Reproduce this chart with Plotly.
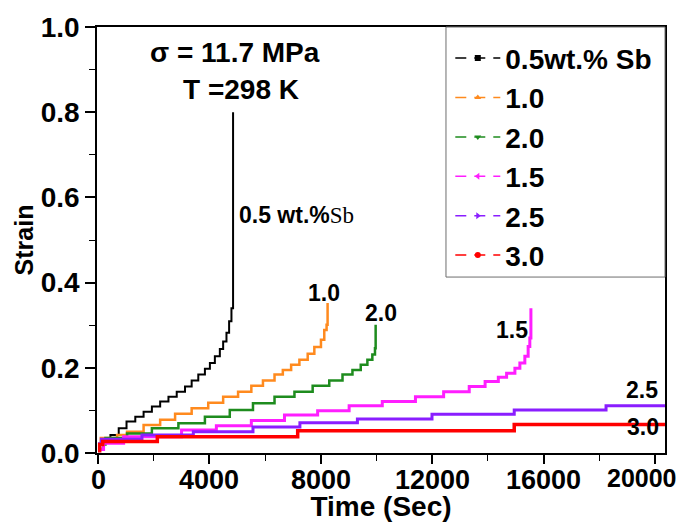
import plotly.graph_objects as go

# ---- data (Time in s, Strain) ----
names = ["0.5wt.% Sb", "1.0", "2.0", "1.5", "2.5", "3.0"]
colors = ["#000000", "#FF8A1E", "#1E8C1E", "#FF1EFF", "#8A1EFF", "#FF0000"]
symbols = ["square", "triangle-up", "triangle-down", "triangle-left", "triangle-right", "circle"]
widths = [2, 2.5, 2.5, 3, 3, 3.5]

t_05 = [0, 190, 446, 744, 1024, 1339, 1637, 1935, 2232, 2530, 2827, 3125, 3363, 3601, 3839,
        4018, 4196, 4375, 4494, 4613, 4708, 4792, 4850]
e_05 = [0.01, 0.027, 0.042, 0.058, 0.074, 0.085, 0.097, 0.109, 0.121, 0.132, 0.144, 0.156,
        0.170, 0.184, 0.198, 0.211, 0.227, 0.244, 0.262, 0.282, 0.309, 0.340, 0.80]

t_10 = [0, 100, 685, 1042, 1637, 2232, 2768, 3363, 3958, 4494, 5030, 5506, 5923, 6339, 6637,
        6935, 7232, 7530, 7768, 8006, 8125, 8208, 8244]
e_10 = [0.02, 0.035, 0.042, 0.050, 0.066, 0.078, 0.092, 0.105, 0.118, 0.132, 0.144, 0.158,
        0.170, 0.184, 0.195, 0.207, 0.219, 0.233, 0.249, 0.266, 0.289, 0.301, 0.352]

t_20 = [0, 268, 1042, 1935, 2887, 3839, 4732, 5565, 6339, 7054, 7708, 8304, 8780, 9137, 9435,
        9673, 9851, 9946, 9970]
e_20 = [0.02, 0.035, 0.046, 0.058, 0.070, 0.085, 0.101, 0.117, 0.132, 0.144, 0.158, 0.170,
        0.184, 0.195, 0.207, 0.219, 0.231, 0.246, 0.301]

t_15 = [0, 200, 920, 3000, 4250, 5506, 6696, 7887, 9018, 10208, 11399, 12411, 13330, 13900,
        14375, 14672, 14970, 15149, 15327, 15446, 15506, 15545]
e_15 = [0.008, 0.023, 0.038, 0.054, 0.064, 0.076, 0.089, 0.099, 0.111, 0.121, 0.132, 0.144,
        0.156, 0.168, 0.178, 0.187, 0.199, 0.211, 0.227, 0.250, 0.270, 0.340]

t_25 = [0, 120, 1578, 3423, 5565, 7250, 9315, 11993, 14946, 18243, 20360]
e_25 = [0.022, 0.032, 0.042, 0.050, 0.061, 0.071, 0.080, 0.091, 0.101, 0.111, 0.111]

t_30 = [0, 60, 170, 2130, 7170, 14946, 20360]
e_30 = [0.005, 0.020, 0.027, 0.038, 0.052, 0.067, 0.067]

series_t = [t_05, t_10, t_20, t_15, t_25, t_30]
series_e = [e_05, e_10, e_20, e_15, e_25, e_30]

curve_labels = ["1.0", "2.0", "1.5", "2.5", "3.0"]
curve_label_x = [8115, 10160, 14865, 19533, 19570]
curve_label_y = [0.376, 0.329, 0.289, 0.148, 0.061]

x_ticks = [0, 4000, 8000, 12000, 16000, 20000]
x_tick_labels = ["0", "4000", "8000", "12000", "16000", "20000"]
y_ticks = [0.0, 0.2, 0.4, 0.6, 0.8, 1.0]

FONT = "Liberation Sans, Arial, sans-serif"

fig = go.Figure()

# data curves (stepped)
for t, e, c, w in zip(series_t, series_e, colors, widths):
    fig.add_trace(go.Scatter(x=t, y=e, mode="lines", line=dict(color=c, width=w, shape="hv"),
                             showlegend=False, hoverinfo="skip"))

# legend entries
for i, (n, c, s) in enumerate(zip(names, colors, symbols)):
    fig.add_trace(go.Scatter(x=[None], y=[None], mode="lines+markers", name=n,
                             legendgroup=f"g{i}",
                             line=dict(color=c, width=1.5, dash="11px,8px"),
                             marker=dict(color=c, symbol=s, size=6)))

annotations = [
    dict(x=0.243, y=0.941, xref="paper", yref="paper", xanchor="center", yanchor="middle",
         text="σ = 11.7 MPa", showarrow=False,
         font=dict(size=28, family=FONT, weight="bold", color="black")),
    dict(x=0.2535, y=0.854, xref="paper", yref="paper", xanchor="center", yanchor="middle",
         text="T =298 K", showarrow=False,
         font=dict(size=28, family=FONT, weight="bold", color="black")),
    dict(x=4990, y=0.559, xref="x", yref="y", xanchor="left", yanchor="middle",
         text="0.5 wt.%<span style='font-family:Liberation Serif;font-weight:normal'>Sb</span>",
         showarrow=False, font=dict(size=23, family=FONT, weight="bold", color="black")),
]
# x tick labels (the last one is smaller and pulled left, as in the reference)
for v, lab in zip(x_ticks, x_tick_labels):
    last = v == x_ticks[-1]
    annotations.append(dict(x=v, y=-0.058 if last else -0.064, xref="x", yref="paper",
                            xanchor="center", yanchor="middle", xshift=-13 if last else 0,
                            text=lab, showarrow=False,
                            font=dict(size=25 if last else 27, family=FONT, weight="bold",
                                      color="black")))
for lab, lx, ly in zip(curve_labels, curve_label_x, curve_label_y):
    annotations.append(dict(x=lx, y=ly, xref="x", yref="y", xanchor="center", yanchor="middle",
                            text=lab, showarrow=False,
                            font=dict(size=23, family=FONT, weight="bold", color="black")))

fig.update_layout(
    width=682, height=524,
    margin=dict(l=97, r=17, t=27, b=71, autoexpand=False),
    paper_bgcolor="white", plot_bgcolor="white",
    font=dict(family=FONT, color="black"),
    showlegend=True,
    legend=dict(x=0.622, xanchor="left", y=0.985, yanchor="top",
                bgcolor="rgba(0,0,0,0)", borderwidth=0,
                font=dict(size=28, family=FONT, weight="bold", color="black"),
                tracegroupgap=0, itemwidth=45),
    annotations=annotations,
    shapes=[dict(type="rect", xref="paper", yref="paper", x0=0.6144, x1=1.0, y0=0.413, y1=1.0,
                 line=dict(color="#6E6E6E", width=1))],
)

fig.update_xaxes(
    range=[-36, 20360], showgrid=False, zeroline=False, automargin=False,
    showline=True, linecolor="black", linewidth=1.5, mirror=True,
    ticks="outside", ticklen=9, tickwidth=1.5, tickcolor="black",
    tickvals=x_ticks, showticklabels=False,
    minor=dict(dtick=2000, ticklen=6, tickwidth=1.2, ticks="outside", tickcolor="black"),
    title=dict(text="Time (Sec)", standoff=34,
               font=dict(size=28, family=FONT, weight="bold", color="black")),
)
fig.update_yaxes(
    range=[0, 1.0], showgrid=False, zeroline=False, automargin=False,
    showline=True, linecolor="black", linewidth=1.5, mirror=True,
    ticks="outside", ticklen=10, tickwidth=1.5, tickcolor="black",
    tickvals=y_ticks, ticktext=[f"{v:.1f}" for v in y_ticks],
    tickfont=dict(size=28, family=FONT, weight="bold", color="black"),
    minor=dict(dtick=0.1, ticklen=6, tickwidth=1.2, ticks="outside", tickcolor="black"),
    title=dict(text="Strain", standoff=0,
               font=dict(size=25, family=FONT, weight="bold", color="black")),
)

fig.write_html("out.html")
